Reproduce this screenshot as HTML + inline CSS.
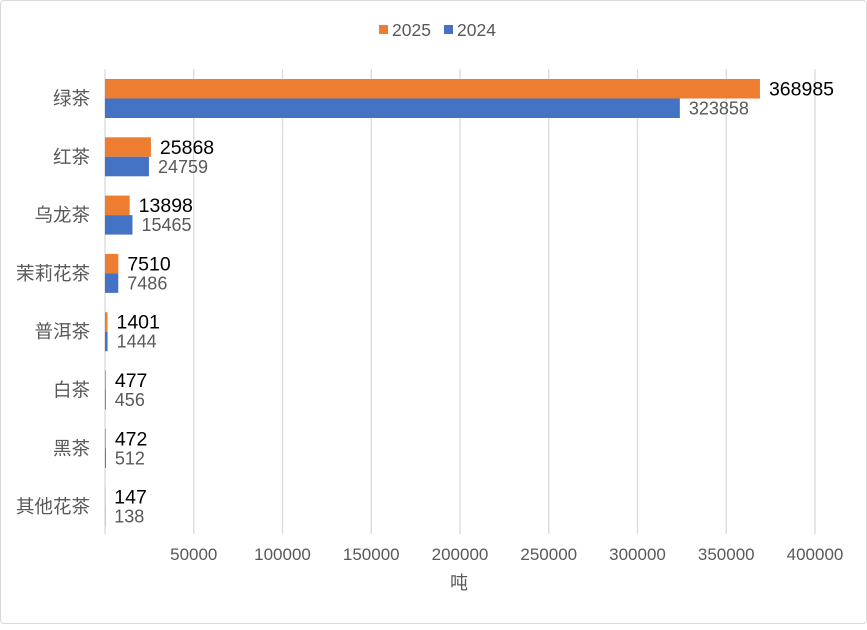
<!DOCTYPE html>
<html><head><meta charset="utf-8"><style>
body{margin:0;background:#fff;font-family:"Liberation Sans","Noto Sans CJK SC",sans-serif}
#c{position:absolute;left:0;top:0;width:865px;height:622px;border:1px solid #d9d9d9;border-radius:4px}
</style></head><body>
<div id="c">
<svg id="s" width="867" height="624"></svg>
</div>
<script>
const categories=["绿茶","红茶","乌龙茶","茉莉花茶","普洱茶","白茶","黑茶","其他花茶"];
const values2025=[368985,25868,13898,7510,1401,477,472,147];
const values2024=[323858,24759,15465,7486,1444,456,512,138];
const ticks=[50000,100000,150000,200000,250000,300000,350000,400000];
const NS="http://www.w3.org/2000/svg",s=document.getElementById('s');
const x=v=>104+v*(88.75/50000);
const yc=i=>97.5+i*58.3;
function el(t,a,txt){const e=document.createElementNS(NS,t);for(const k in a)e.setAttribute(k,a[k]);if(txt!=null)e.textContent=txt;s.appendChild(e);return e;}
ticks.forEach(t=>{
 const g=el('line',{x1:x(t),x2:x(t),y1:68,y2:533,stroke:'#d9d9d9','stroke-width':1.3});
 
 
 const l=el('text',{x:x(t),y:559,'text-anchor':'middle','font-size':17,fill:'#595959'},t);
 
 
});
const ax=el('line',{x1:104,x2:104,y1:68,y2:533,stroke:'#d9d9d9','stroke-width':1.3});


categories.forEach((c,i)=>{
 const cy=yc(i);
 const lb=el('text',{x:89,y:cy+6.5,'text-anchor':'end','font-size':18.5,fill:'#595959'},c);
 
 
 const b1=el('rect',{x:104,y:cy-19.5,width:x(values2025[i])-104,height:19.5,fill:'#ed7d31'});
 
 
 const b2=el('rect',{x:104,y:cy,width:x(values2024[i])-104,height:19.5,fill:'#4472c4'});
 
 
 const t1=el('text',{x:x(values2025[i])+9,y:cy-3,'font-size':19.5,fill:'#000'},values2025[i]);
 
 
 const t2=el('text',{x:x(values2024[i])+9,y:cy+16,'font-size':18,fill:'#595959'},values2024[i]);
 
 
});
const xt=el('text',{x:458,y:588,'text-anchor':'middle','font-size':18,fill:'#595959'},'吨');


const lg=[['#ed7d31','2025',378],['#4472c4','2024',443]];
lg.forEach(([c,t,lx])=>{
 const r=el('rect',{x:lx,y:24,width:9,height:9,fill:c});
 
 
 const tx=el('text',{x:lx+13,y:35,'font-size':17.5,fill:'#595959'},t);
 
 
});
</script>
</body></html>
